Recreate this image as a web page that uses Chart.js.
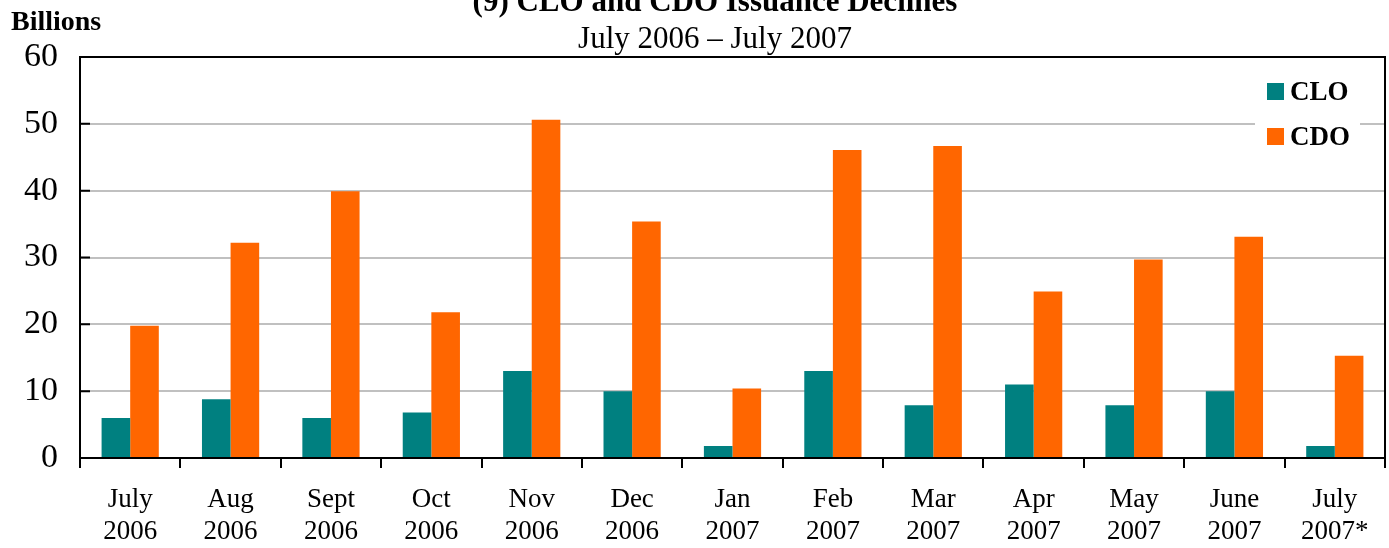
<!DOCTYPE html>
<html>
<head>
<meta charset="utf-8">
<script src="https://cdn.jsdelivr.net/npm/chart.js@4.4.0/dist/chart.umd.min.js"></script>
<style>
  html, body { margin: 0; padding: 0; background: #fff; }
  #wrap { width: 1389px; height: 548px; }
</style>
</head>
<body>
<div id="wrap"><canvas id="chart" width="1389" height="548"></canvas></div>
<script>
// data (billions)
const months = [
    ["July", "2006"], ["Aug", "2006"], ["Sept", "2006"], ["Oct", "2006"],
    ["Nov", "2006"], ["Dec", "2006"], ["Jan", "2007"], ["Feb", "2007"],
    ["Mar", "2007"], ["Apr", "2007"], ["May", "2007"], ["June", "2007"],
    ["July", "2007*"]
];
const cloValues = [6, 8.8, 6, 6.8, 13, 10, 1.8, 13, 7.9, 11, 7.9, 10, 1.8];
const cdoValues = [19.8, 32.2, 39.9, 21.8, 50.6, 35.4, 10.4, 46.1, 46.7, 24.9, 29.7, 33.1, 15.3];
const yMin = 0;
const yMax = 60;
const yStep = 10;

const chartTitle = "(9) CLO and CDO Issuance Declines";
const chartSubtitle = "July 2006 \u2013 July 2007";
const unitLabel = "Billions";

const serif = "'Liberation Serif', 'Times New Roman', serif";

// title, subtitle, "Billions"
const textPlugin = {
    id: "texts",
    afterDraw(chart) {
        const ctx = chart.ctx;
        ctx.save();
        ctx.fillStyle = "#000";
        ctx.textAlign = "center";
        ctx.textBaseline = "alphabetic";
        ctx.font = "bold 31px " + serif;
        ctx.fillText(chartTitle, 715, 11);
        ctx.font = "31px " + serif;
        ctx.fillText(chartSubtitle, 715, 48);
        ctx.textAlign = "left";
        ctx.font = "bold 28px " + serif;
        ctx.fillText(unitLabel, 11, 30);
        ctx.restore();
    }
};

// legend inside the plot, top right
const legendPlugin = {
    id: "boxLegend",
    afterDatasetsDraw(chart) {
        const ctx = chart.ctx;
        ctx.save();
        ctx.fillStyle = "#fff";
        ctx.fillRect(1255, 70, 105, 85);
        ctx.font = "bold 27px " + serif;
        ctx.textBaseline = "middle";
        ctx.textAlign = "left";
        chart.data.datasets.forEach((ds, i) => {
            const y = 83 + i * 45;
            ctx.fillStyle = ds.backgroundColor;
            ctx.fillRect(1267, y, 17, 17);
            ctx.fillStyle = "#000";
            ctx.fillText(ds.label, 1290, y + 10);
        });
        ctx.restore();
    }
};

// frame top/right and inward ticks on the y axis
const framePlugin = {
    id: "frame",
    afterDraw(chart) {
        const ctx = chart.ctx;
        const a = chart.chartArea;
        const y = chart.scales.y;
        ctx.save();
        ctx.strokeStyle = "#000";
        ctx.lineWidth = 2;
        ctx.beginPath();
        ctx.moveTo(a.left, a.top);
        ctx.lineTo(a.right, a.top);
        ctx.lineTo(a.right, a.bottom);
        y.ticks.forEach(t => {
            const py = y.getPixelForValue(t.value);
            ctx.moveTo(a.left, py);
            ctx.lineTo(a.left + 10, py);
        });
        ctx.stroke();
        ctx.restore();
    }
};

const ctx = document.getElementById("chart").getContext("2d");
const myChart = new Chart(ctx, {
    type: "bar",
    data: {
        labels: months,
        datasets: [{
            label: "CLO",
            data: cloValues,
            backgroundColor: "#008080",
            borderWidth: 0
        }, {
            label: "CDO",
            data: cdoValues,
            backgroundColor: "#FF6600",
            borderWidth: 0
        }]
    },
    options: {
        responsive: false,
        animation: false,
        devicePixelRatio: 1,
        layout: { padding: { top: 57, right: 4, left: 0, bottom: 0 } },
        categoryPercentage: 0.57,
        barPercentage: 1.0,
        plugins: {
            legend: { display: false },
            title: { display: false },
            tooltip: { enabled: false }
        },
        scales: {
            x: {
                afterFit: function (scale) { scale.height = 90; },
                grid: {
                    drawOnChartArea: false,
                    color: "#000",
                    lineWidth: 2,
                    tickLength: 10
                },
                border: { color: "#000", width: 2 },
                ticks: {
                    color: "#000",
                    font: { family: serif, size: 27, lineHeight: 1.18 },
                    padding: 16,
                    maxRotation: 0,
                    autoSkip: false
                }
            },
            y: {
                min: yMin,
                max: yMax,
                afterFit: function (scale) { scale.width = 80; },
                grid: {
                    drawTicks: false,
                    lineWidth: 2,
                    color: function (c) {
                        return (c.tick.value === yMin || c.tick.value === yMax) ? "rgba(0,0,0,0)" : "#c0c0c0";
                    }
                },
                border: { color: "#000", width: 2 },
                ticks: {
                    stepSize: yStep,
                    color: "#000",
                    font: { family: serif, size: 34 },
                    padding: 22
                }
            }
        }
    },
    plugins: [legendPlugin, framePlugin, textPlugin]
});
</script>
</body>
</html>
